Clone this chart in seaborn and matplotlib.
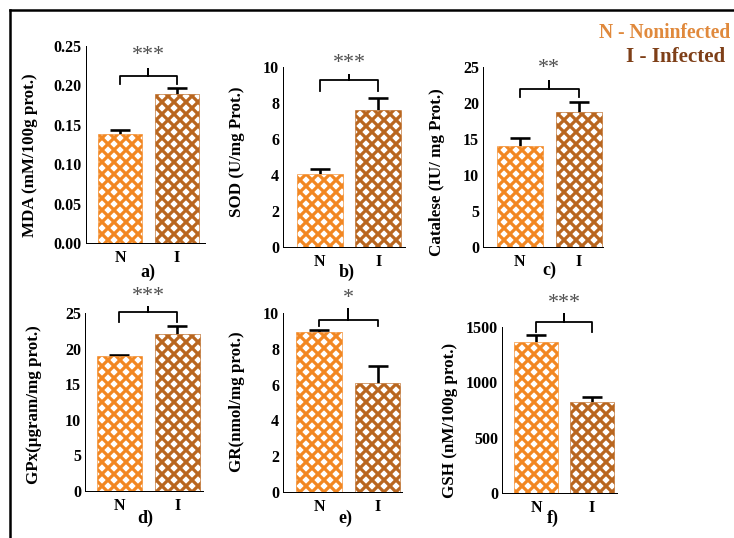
import numpy as np
import pandas as pd
import matplotlib
matplotlib.use('Agg')
import matplotlib.pyplot as plt
import seaborn as sns

# values
groups = ['N', 'I']
mda = [0.138, 0.189]
mda_err = [0.006, 0.008]
sod = [4.07, 7.59]
sod_err = [0.28, 0.69]
catalase = [14.0, 18.8]
catalase_err = [1.2, 1.3]
gpx = [19.0, 22.1]
gpx_err = [0.15, 1.1]
gr = [8.94, 6.09]
gr_err = [0.09, 0.97]
gsh = [1365, 825]
gsh_err = [60, 39]

stars = ['***', '***', '**', '***', '*', '***']
ylabels = ['MDA (mM/100g prot.)', 'SOD (U/mg Prot.)', 'Catalese (IU/ mg Prot.)',
           'GPx(\u00b5gram/mg prot.)', 'GR(nmol/mg prot.)', 'GSH (nM/100g prot.)']
letters = ['a)', 'b)', 'c)', 'd)', 'e)', 'f)']
yticks = [np.arange(0, 0.26, 0.05), np.arange(0, 11, 2), np.arange(0, 26, 5),
          np.arange(0, 26, 5), np.arange(0, 11, 2), np.arange(0, 1501, 500)]
# bracket: (ends, bar, spike, star level)
brackets = [(0.202, 0.2125, 0.221, 0.2375), (8.65, 9.26, 9.54, 10.2),
            (20.9, 22.0, 23.1, 24.8), (23.7, 25.1, 25.9, 27.3),
            (9.25, 9.63, 10.2, 10.8), (1455, 1545, 1620, 1710)]

values = [mda, sod, catalase, gpx, gr, gsh]
errors = [mda_err, sod_err, catalase_err, gpx_err, gr_err, gsh_err]

W, H = 734, 538
DPI = 72
plt.rcParams['hatch.linewidth'] = 3.2
serif = ['Liberation Serif', 'DejaVu Serif']

# axes rectangles in pixels: left, top, right, bottom
rects = [(86, 46, 205, 243), (283, 67, 405, 247), (483, 67, 603, 247),
         (85, 313, 203, 491), (283, 313, 402, 492), (502, 327, 617, 493)]
xlims = [(-0.6, 1.5), (-0.62, 1.45), (-0.62, 1.41),
         (-0.59, 1.44), (-0.62, 1.42), (-0.61, 1.45)]
ylabel_pos = [(38, 155), (245, 152), (445, 172), (42, 405), (245, 402), (458, 420)]
letter_pos = [(148, 272), (347, 272), (549, 270), (145, 518), (345, 518), (553, 518)]

n_color = '#F28722'
i_color = '#B9661F'

fig = plt.figure(figsize=(W / DPI, H / DPI), dpi=DPI)


def frac(x, y):
    return x / W, 1 - y / H


for k in range(6):
    l, t, r, b = rects[k]
    ax = fig.add_axes([l / W, 1 - b / H, (r - l) / W, (b - t) / H])
    df = pd.DataFrame({'group': groups, 'value': values[k]})
    sns.barplot(data=df, x='group', y='value', hue='group', palette=[n_color, i_color],
                order=groups, hue_order=groups, width=0.78, errorbar=None,
                legend=False, ax=ax, zorder=2)
    for p, c in zip(ax.patches, [n_color, i_color]):
        p.set_facecolor('white')
        p.set_edgecolor(c)
        p.set_hatch('xx')
        p.set_linewidth(0.6)
    _, caps, _ = ax.errorbar([0, 1], values[k], yerr=[[0, 0], errors[k]], fmt='none',
                             ecolor='black', elinewidth=2.6, capsize=10, capthick=2.6,
                             zorder=1)
    caps[0].set_visible(False)
    lo, mid, spike, star_y = brackets[k]
    ax.plot([0, 0, 0.5, 0.5, 0.5, 1, 1], [lo, mid, mid, spike, mid, mid, lo],
            color='black', lw=1.8, clip_on=False, solid_joinstyle='round')
    ax.text(0.5, star_y, stars[k], ha='center', va='center', fontsize=22,
            color='#505050', family=serif, clip_on=False)
    ax.set_xlim(*xlims[k])
    ax.set_ylim(yticks[k][0], yticks[k][-1])
    ax.set_yticks(yticks[k])
    if k == 0:
        ax.set_yticklabels([f'{v:.2f}' for v in yticks[k]])
    else:
        ax.set_yticklabels([f'{v:g}' for v in yticks[k]])
    ax.tick_params(length=0, pad=4, labelsize=16)
    ax.tick_params(axis='x', pad=7)
    for lab in ax.get_xticklabels() + ax.get_yticklabels():
        lab.set_family(serif)
        lab.set_fontweight('bold')
    ax.set_xlabel('')
    ax.set_ylabel(ylabels[k], fontsize=17, fontweight='bold', family=serif)
    px, py = ylabel_pos[k]
    ax.yaxis.set_label_coords((px - l) / (r - l), (b - py) / (b - t))
    sns.despine(ax=ax)
    for s in ['left', 'bottom']:
        ax.spines[s].set_linewidth(1.0)
    lx, ly = frac(*letter_pos[k])
    fig.text(lx, ly, letters[k], ha='center', va='center', fontsize=18,
             fontweight='bold', family=serif)

# legend text in the corner
fig.text(*frac(730, 33), 'N - Noninfected', ha='right', va='center', fontsize=19.5,
         fontweight='bold', color='#E0893C', family=serif)
fig.text(*frac(676, 57), 'I - Infected', ha='center', va='center', fontsize=21,
         fontweight='bold', color='#7E3F18', family=serif)

# outer frame (left and top edges)
fig.add_artist(plt.Line2D([10 / W, 10 / W], [0, 1 - 10 / H], color='black', lw=2.5))
fig.add_artist(plt.Line2D([10 / W, 1], [1 - 10 / H, 1 - 10 / H], color='black', lw=2.5))

fig.savefig('out.png', dpi=DPI)
